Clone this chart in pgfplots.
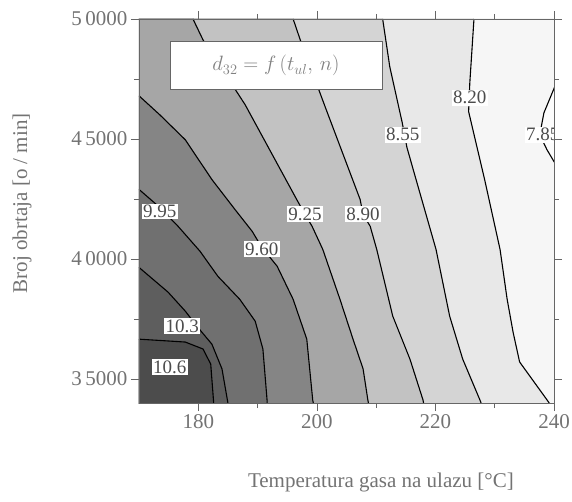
\documentclass[border=0pt]{standalone}
\usepackage{pgfplots}
\pgfplotsset{compat=1.18}
\usepackage{fontspec}
\setmainfont{Liberation Serif}
\definecolor{cA}{gray}{0.99}
\definecolor{cB}{gray}{0.965}
\definecolor{cC}{gray}{0.91}
\definecolor{cD}{gray}{0.83}
\definecolor{cE}{gray}{0.76}
\definecolor{cF}{gray}{0.65}
\definecolor{cG}{gray}{0.52}
\definecolor{cH}{gray}{0.44}
\definecolor{cI}{gray}{0.37}
\definecolor{cJ}{gray}{0.30}
\begin{document}
\begin{tikzpicture}
\useasboundingbox (-139pt,-98pt) rectangle (433pt,403pt);
\begin{axis}[
  scale only axis, width=415pt, height=384pt,
  xmin=170, xmax=240, ymin=3400, ymax=5000,
  xtick={180,200,220,240}, minor xtick={190,210,230},
  ytick={3500,4000,4500,5000}, yticklabels={3\,5000,4\,0000,4\,5000,5\,0000},
  minor ytick={3750,4250,4750},
  tick align=outside, major tick length=8pt, minor tick length=5pt,
  tick style={black!60, line width=0.6pt},
  axis line style={black!60, line width=0.8pt},
  /pgf/number format/assume math mode=true,
  ticklabel style={font=\fontsize{21}{24}\selectfont, text=black!55},
  xlabel={Temperatura gasa na ulazu [°C]},
  ylabel={Broj obrtaja [o / min]},
  label style={font=\fontsize{21}{24}\selectfont, text=black!55},
  xlabel style={at={(axis description cs:0.583,-0.206)}, anchor=center},
  ylabel style={at={(axis description cs:-0.282,0.52)}, anchor=center},
  axis on top,
]
% background bands
\addplot[fill=cB, draw=none] coordinates {(165,3390)(245,3390)(245,5010)(165,5010)} -- cycle;
\addplot[fill=cA, draw=none] coordinates {(245,4740)(240.5,4740)(238.3,4609)(237.6,4518)(238.8,4456)(240.5,4385)(245,4385)} -- cycle;
\addplot[fill=cC, draw=none] coordinates {(226.5,5010)(225.8,4734)(225.6,4614)(228.3,4331)(230.9,4040)(232.1,3832)(233.1,3695)(234.2,3571)(239.2,3400)(239.5,3390)(165,3390)(165,5010)} -- cycle;
\addplot[fill=cD, draw=none] coordinates {(211.1,5010)(212.3,4801)(214.4,4568)(215.2,4464)(220.1,4040)(222.4,3762)(224.6,3583)(227.5,3413)(227.8,3390)(165,3390)(165,5010)} -- cycle;
\addplot[fill=cE, draw=none] coordinates {(196.0,5010)(197.2,4913)(201.4,4634)(207.3,4248)(207.8,4186)(209.0,4136)(210.1,4040)(212.8,3762)(215.7,3583)(217.9,3413)(218.1,3390)(165,3390)(165,5010)} -- cycle;
\addplot[fill=cF, draw=none] coordinates {(179.1,5010)(180.8,4913)(187.9,4643)(196.6,4248)(198.0,4186)(199.2,4136)(201.0,4040)(203.9,3832)(206.1,3666)(207.8,3542)(208.6,3413)(208.7,3390)(165,3390)(165,5010)} -- cycle;
\addplot[fill=cG, draw=none] coordinates {(169,4700)(170,4680)(173.5,4601)(177.8,4497)(182.3,4331)(186.2,4206)(189.1,4115)(190.7,4049)(193.3,3970)(196.0,3832)(198.3,3666)(199.3,3413)(199.4,3390)(165,3390)(165,4700)} -- cycle;
\addplot[fill=cH, draw=none] coordinates {(169,4310)(170,4290)(173.5,4215)(176.6,4136)(180.3,4032)(183.3,3928)(187.0,3832)(189.6,3741)(190.9,3625)(191.6,3413)(191.6,3390)(165,3390)(165,4310)} -- cycle;
\addplot[fill=cI, draw=none] coordinates {(169,3985)(170,3965)(174.9,3862)(177.8,3783)(179.9,3716)(182.3,3645)(184.0,3542)(185.0,3390)(165,3390)(165,3985)} -- cycle;
\addplot[fill=cJ, draw=none] coordinates {(169,3668)(170,3666)(177.8,3654)(180.8,3625)(182.1,3562)(182.6,3390)(165,3390)(165,3668)} -- cycle;
% contour lines
\pgfplotsset{cl/.style={black, line width=1.1pt, mark=none}}
\addplot[cl] coordinates {(240.5,4740)(238.3,4609)(237.6,4518)(238.8,4456)(240.5,4385)};
\addplot[cl] coordinates {(226.5,5000)(225.8,4734)(225.6,4614)(228.3,4331)(230.9,4040)(232.1,3832)(233.1,3695)(234.2,3571)(239.2,3400)};
\addplot[cl] coordinates {(211.1,5000)(212.3,4801)(214.4,4568)(215.2,4464)(220.1,4040)(222.4,3762)(224.6,3583)(227.5,3413)(227.7,3400)};
\addplot[cl] coordinates {(196.0,5000)(197.2,4913)(201.4,4634)(207.3,4248)(207.8,4186)(209.0,4136)(210.1,4040)(212.8,3762)(215.7,3583)(217.9,3413)(218.0,3400)};
\addplot[cl] coordinates {(179.1,5000)(180.8,4913)(187.9,4643)(196.6,4248)(198.0,4186)(199.2,4136)(201.0,4040)(203.9,3832)(206.1,3666)(207.8,3542)(208.6,3413)(208.7,3400)};
\addplot[cl] coordinates {(170,4680)(173.5,4601)(177.8,4497)(182.3,4331)(186.2,4206)(189.1,4115)(190.7,4049)(193.3,3970)(196.0,3832)(198.3,3666)(199.3,3413)(199.4,3400)};
\addplot[cl] coordinates {(170,4290)(173.5,4215)(176.6,4136)(180.3,4032)(183.3,3928)(187.0,3832)(189.6,3741)(190.9,3625)(191.6,3413)(191.6,3400)};
\addplot[cl] coordinates {(170,3965)(174.9,3862)(177.8,3783)(179.9,3716)(182.3,3645)(184.0,3542)(185.0,3400)};
\addplot[cl] coordinates {(170,3666)(177.8,3654)(180.8,3625)(182.1,3562)(182.6,3400)};
% labels
\tikzset{lab/.style={fill=white, inner sep=1.5pt, text=black!70, font=\fontsize{19}{21}\selectfont}}
\node[lab] at (axis cs:238.1,4518) {7.85};
\node[lab] at (axis cs:225.8,4672) {8.20};
\node[lab] at (axis cs:214.5,4518) {8.55};
\node[lab] at (axis cs:207.8,4186) {8.90};
\node[lab] at (axis cs:198.0,4186) {9.25};
\node[lab] at (axis cs:190.7,4040) {9.60};
\node[lab] at (axis cs:173.5,4198) {9.95};
\node[lab] at (axis cs:177.3,3720) {10.3};
\node[lab] at (axis cs:175.2,3550) {10.6};
\node[draw=black!60, line width=0.8pt, fill=white, minimum width=212pt, minimum height=48pt, text=black!50, font=\fontsize{20}{22}\selectfont] at (axis cs:193.1,4805) {$d_{32} = f\,(t_{ul},\, n)$};
\end{axis}
\end{tikzpicture}
\end{document}
